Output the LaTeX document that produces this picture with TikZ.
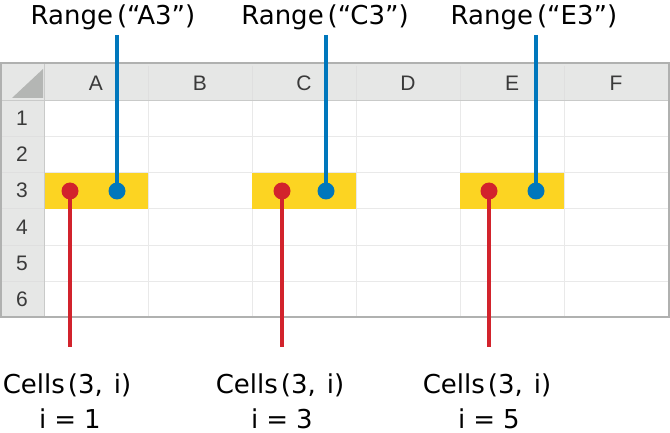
\documentclass[tikz,border=0pt]{standalone}
\usepackage{fontspec}
\setmainfont{Liberation Sans}
\newfontfamily\lblfont{DejaVu Sans}
\definecolor{hdrbg}{HTML}{E6E7E6}
\definecolor{gridc}{HTML}{E9E9E9}
\definecolor{hdrln}{HTML}{C9CAC9}
\definecolor{borderc}{HTML}{B0B1B0}
\definecolor{tric}{HTML}{B4B6B4}
\definecolor{ylw}{HTML}{FCD422}
\definecolor{redc}{HTML}{D2232C}
\definecolor{bluec}{HTML}{0077BC}
\definecolor{txtc}{HTML}{3A3A3A}
\tikzset{
  lbl/.style={inner sep=0pt, anchor=base, font=\lblfont\fontsize{26}{30}\selectfont, text=black},
  hdrtxt/.style={inner sep=0pt, anchor=base, font=\fontsize{21}{24}\selectfont, text=txtc},
  cellgrid/.style={draw=gridc, line width=1pt},
  hdrsep/.style={draw=hdrln, line width=0.8pt},
  reddot/.style={circle, fill=redc, minimum size=17pt, inner sep=0pt},
  bluedot/.style={circle, fill=bluec, minimum size=17pt, inner sep=0pt},
  redline/.style={draw=redc, line width=3.5pt},
  blueline/.style={draw=bluec, line width=3.5pt}
}
\begin{document}
\begin{tikzpicture}[x=1pt,y=-1pt]
\useasboundingbox (0,0) rectangle (670,433);
% header backgrounds
\fill[hdrbg] (1,63) rectangle (669,100);
\fill[hdrbg] (1,100) rectangle (44,317);
% cell grid
\foreach \x in {148,252,356,460,564} \draw[cellgrid] (\x,100) -- (\x,317);
\foreach \y in {137,173,209,245,281} \draw[cellgrid] (44,\y) -- (669,\y);
% header separators
\foreach \x in {148,252,356,460,564} \draw[cellgrid, draw=hdrln!60] (\x,66) -- (\x,100);
\foreach \y in {137,173,209,245,281} \draw[cellgrid, draw=hdrln!60] (1,\y) -- (44,\y);
% yellow cells
\foreach \x in {44,252,460} \fill[ylw] (\x,173) rectangle ++(104,36);
\draw[hdrsep] (1,100) -- (669,100);
\draw[hdrsep] (44,63) -- (44,317);
% border
\draw[draw=borderc, line width=1.2pt] (1,63) rectangle (669,317);
% corner triangle
\fill[tric] (12,98) -- (43,98) -- (43,69) -- cycle;
% column headers
\node[hdrtxt] (hA) at (96,91) {A};
\node[hdrtxt] (hB) at (200,91) {B};
\node[hdrtxt] (hC) at (304,91) {C};
\node[hdrtxt] (hD) at (408,91) {D};
\node[hdrtxt] (hE) at (512,91) {E};
\node[hdrtxt] (hF) at (616,91) {F};
% row headers
\node[hdrtxt] (r1) at (22,126) {1};
\node[hdrtxt] (r2) at (22,162) {2};
\node[hdrtxt] (r3) at (22,198) {3};
\node[hdrtxt] (r4) at (22,234) {4};
\node[hdrtxt] (r5) at (22,270) {5};
\node[hdrtxt] (r6) at (22,306) {6};
% dots
\node[reddot] (cA) at (70,191) {};
\node[bluedot] (bA) at (117,191) {};
\node[reddot] (cC) at (282,191) {};
\node[bluedot] (bC) at (326,191) {};
\node[reddot] (cE) at (489,191) {};
\node[bluedot] (bE) at (536,191) {};
% Range labels
\node[lbl] (rgA) at (113,25) {Range\kern4pt(“A3”)};
\node[lbl] (rgC) at (325,25) {Range\kern4pt(“C3”)};
\node[lbl] (rgE) at (534,25) {Range\kern4pt(“E3”)};
\coordinate (tA) at (117,35);
\coordinate (tC) at (326,35);
\coordinate (tE) at (536,35);
\draw[blueline] (tA) -- (bA.center);
\draw[blueline] (tC) -- (bC.center);
\draw[blueline] (tE) -- (bE.center);
% Cells labels
\node[lbl] (clA) at (67,393) {Cells\kern3pt(3,\kern11pt i)};
\node[lbl] (clC) at (280,393) {Cells\kern3pt(3,\kern11pt i)};
\node[lbl] (clE) at (487,393) {Cells\kern3pt(3,\kern11pt i)};
\node[lbl] (iA) at (70,428) {i\kern8pt=\kern8pt1};
\node[lbl] (iC) at (282,428) {i\kern8pt=\kern8pt3};
\node[lbl] (iE) at (489,428) {i\kern8pt=\kern8pt5};
\coordinate (eA) at (70,347);
\coordinate (eC) at (282,347);
\coordinate (eE) at (489,347);
\draw[redline] (cA.center) -- (eA);
\draw[redline] (cC.center) -- (eC);
\draw[redline] (cE.center) -- (eE);
\end{tikzpicture}
\end{document}
